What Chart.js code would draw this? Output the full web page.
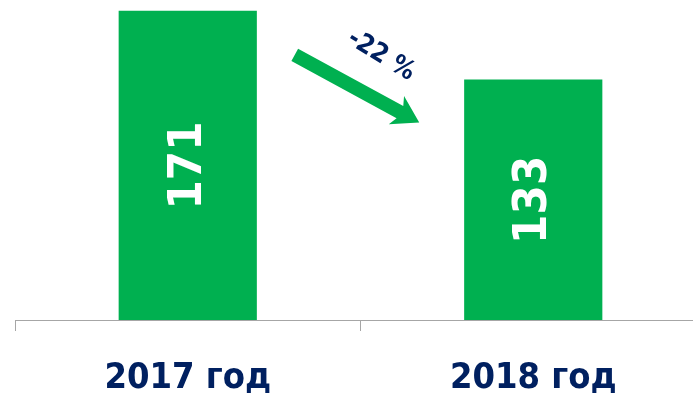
<!DOCTYPE html>
<html>
<head>
<meta charset="utf-8">
<script src="https://cdn.jsdelivr.net/npm/chart.js@4"></script>
<style>
  html, body { margin: 0; padding: 0; background: #fff; overflow: hidden; }
  #wrap { width: 706px; height: 394px; }
</style>
</head>
<body>
<div id="wrap"><canvas id="chart"></canvas></div>
<script>
const years = ['2017 год', '2018 год'];
const values = [171, 133];

const GREEN = '#00B050';
const NAVY = '#002060';
const FONT = '"Liberation Sans Narrow", "DejaVu Sans Condensed", "Open Sans", sans-serif';

// value written vertically inside each bar
const barValues = {
  id: 'barValues',
  afterDatasetsDraw(chart) {
    const ctx = chart.ctx;
    chart.getDatasetMeta(0).data.forEach((bar, i) => {
      const cy = (bar.y + bar.base) / 2;
      ctx.save();
      ctx.translate(bar.x, cy);
      ctx.rotate(-Math.PI / 2);
      ctx.fillStyle = '#fff';
      ctx.font = 'bold 47px ' + FONT;
      ctx.textAlign = 'center';
      ctx.textBaseline = 'middle';
      ctx.fillText(String(values[i]), 0, 1);
      ctx.restore();
    });
  }
};

// change arrow between the two bars with the percentage
const changeArrow = {
  id: 'changeArrow',
  afterDatasetsDraw(chart) {
    const ctx = chart.ctx;
    const bars = chart.getDatasetMeta(0).data;
    const x0 = bars[0].x + 107, y0 = bars[0].y + 44;
    const x1 = bars[1].x - 114, y1 = bars[1].y + 43;
    const ang = Math.atan2(y1 - y0, x1 - x0);
    const len = Math.hypot(x1 - x0, y1 - y0);
    ctx.save();
    ctx.translate(x0, y0);
    ctx.rotate(ang);
    ctx.fillStyle = GREEN;
    ctx.beginPath();
    ctx.moveTo(0, -7);
    ctx.lineTo(len - 22, -7);
    ctx.lineTo(len - 26, -16);
    ctx.lineTo(len, 0);
    ctx.lineTo(len - 26, 16);
    ctx.lineTo(len - 22, 7);
    ctx.lineTo(0, 7);
    ctx.closePath();
    ctx.fill();
    ctx.restore();

    const pct = Math.round((values[1] - values[0]) / values[0] * 100);
    ctx.save();
    ctx.translate((x0 + x1) / 2 + 24, (y0 + y1) / 2 - 33);
    ctx.rotate(ang + 0.05);
    ctx.fillStyle = NAVY;
    ctx.font = 'bold 26px ' + FONT;
    ctx.textAlign = 'center';
    ctx.textBaseline = 'middle';
    ctx.fillText(pct + ' %', 0, 0);
    ctx.restore();
  }
};

new Chart(document.getElementById('chart'), {
  type: 'bar',
  data: {
    labels: years,
    datasets: [{
      data: values,
      backgroundColor: GREEN,
      barPercentage: 1,
      categoryPercentage: 0.4
    }]
  },
  options: {
    responsive: true,
    maintainAspectRatio: false,
    animation: false,
    layout: { padding: { left: 15, right: 0, top: 0, bottom: 0 } },
    plugins: { legend: { display: false }, tooltip: { enabled: false } },
    scales: {
      y: { display: false, min: 0, max: 177 },
      x: {
        afterFit(scale) { scale.height = 74; },
        border: { color: '#a6a6a6', width: 1 },
        grid: { drawOnChartArea: false, color: '#a6a6a6', tickLength: 11 },
        ticks: { color: NAVY, padding: 26, font: { family: FONT, size: 36, weight: 'bold' } }
      }
    }
  },
  plugins: [barValues, changeArrow]
});
</script>
</body>
</html>
